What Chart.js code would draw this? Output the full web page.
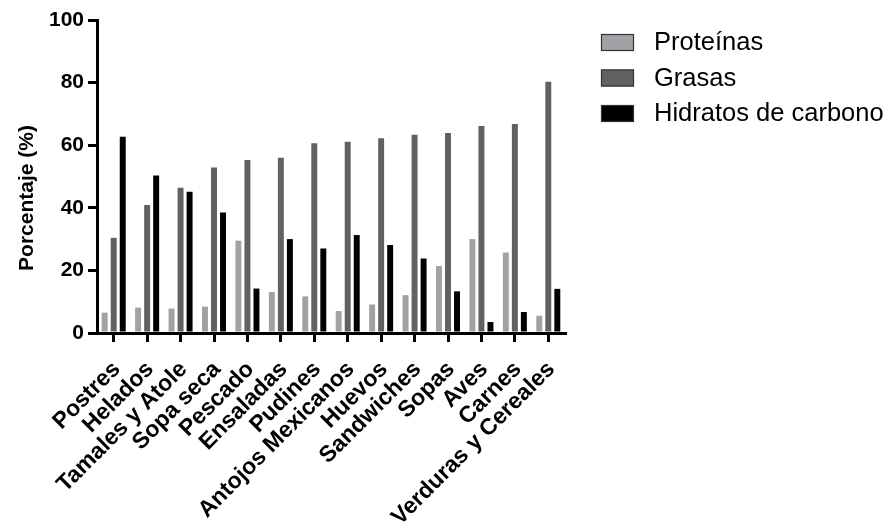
<!DOCTYPE html>
<html>
<head>
<meta charset="utf-8">
<script src="https://cdn.jsdelivr.net/npm/chart.js@4.4.0/dist/chart.umd.min.js"></script>
<style>
  html, body { margin: 0; padding: 0; background: #ffffff; }
  #wrap { width: 888px; height: 525px; position: relative; }
</style>
</head>
<body>
<div id="wrap"><canvas id="c" width="888" height="525"></canvas></div>
<script>
const categories = ["Postres", "Helados", "Tamales y Atole", "Sopa seca", "Pescado", "Ensaladas", "Pudines", "Antojos Mexicanos", "Huevos", "Sandwiches", "Sopas", "Aves", "Carnes", "Verduras y Cereales"];
const proteinas = [6.5, 8.1, 7.8, 8.4, 29.5, 13.1, 11.7, 7.0, 9.1, 12.1, 21.4, 30.0, 25.7, 5.5];
const grasas    = [30.4, 40.9, 46.4, 52.9, 55.3, 56.0, 60.6, 61.1, 62.2, 63.3, 63.9, 66.1, 66.8, 80.3];
const hidratos  = [62.7, 50.3, 45.1, 38.5, 14.2, 30.0, 27.0, 31.3, 28.1, 23.8, 13.3, 3.5, 6.7, 14.1];
const yTicks = [0, 20, 40, 60, 80, 100];
const yTitle = "Porcentaje (%)";
const seriesNames = ["Proteínas", "Grasas", "Hidratos de carbono"];
const seriesColors = ["#a2a2a6", "#616161", "#000000"];

const FONT = "'Liberation Sans', Arial, Helvetica, sans-serif";

const decorPlugin = {
  id: 'decor',
  afterDraw(chart) {
    const ctx = chart.ctx;
    ctx.save();
    chart.data.datasets.forEach((ds, i) => {
      const y = 34 + i * 35.5;
      ctx.fillStyle = ds.backgroundColor;
      ctx.fillRect(601, y, 33, 17);
      ctx.strokeStyle = '#333333';
      ctx.lineWidth = 1.2;
      ctx.strokeRect(601.5, y + 0.5, 32, 16);
      ctx.fillStyle = '#000000';
      ctx.font = "25.5px " + FONT;
      ctx.textBaseline = 'middle';
      ctx.textAlign = 'left';
      ctx.fillText(ds.label, 654, y + 9);
    });
    // y axis title
    ctx.translate(27, 198);
    ctx.rotate(-Math.PI / 2);
    ctx.font = "bold 21px " + FONT;
    ctx.fillStyle = '#000000';
    ctx.textAlign = 'center';
    ctx.textBaseline = 'middle';
    ctx.fillText(yTitle, 0, 0);
    ctx.restore();
  }
};

new Chart(document.getElementById('c'), {
  type: 'bar',
  data: {
    labels: categories,
    datasets: [
      { label: seriesNames[0], data: proteinas, backgroundColor: seriesColors[0] },
      { label: seriesNames[1], data: grasas, backgroundColor: seriesColors[1] },
      { label: seriesNames[2], data: hidratos, backgroundColor: seriesColors[2] }
    ]
  },
  options: {
    responsive: false,
    animation: false,
    devicePixelRatio: 1,
    categoryPercentage: 0.81,
    barPercentage: 0.66,
    layout: { padding: { top: 20, right: 323, left: 0, bottom: 0 } },
    plugins: { legend: { display: false }, tooltip: { enabled: false } },
    scales: {
      x: {
        afterFit(s) { s.height = 192; },
        grid: { drawOnChartArea: false, offset: false, drawTicks: true, tickLength: 9, color: '#000000', lineWidth: 3 },
        border: { display: true, color: '#000000', width: 3 },
        ticks: {
          autoSkip: false, minRotation: 45, maxRotation: 45, padding: 14, labelOffset: 3,
          color: '#000000',
          font: { family: FONT, size: 23, weight: 'bold' }
        }
      },
      y: {
        min: 0, max: 100,
        afterFit(s) { s.width = 97; },
        afterBuildTicks(s) { s.ticks = yTicks.map(v => ({ value: v })); },
        grid: { drawOnChartArea: false, drawTicks: true, tickLength: 9, color: '#000000', lineWidth: 3 },
        border: { display: true, color: '#000000', width: 3 },
        ticks: {
          padding: 4, color: '#000000',
          font: { family: FONT, size: 21, weight: 'bold' }
        }
      }
    }
  },
  plugins: [decorPlugin]
});
</script>
</body>
</html>
